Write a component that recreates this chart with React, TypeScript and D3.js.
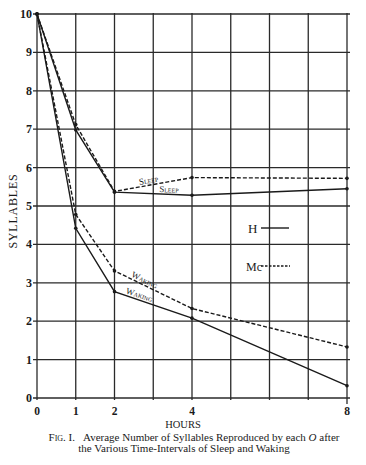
import * as React from "react";
import * as d3 from "d3";

// hours after learning
const hours = [0, 1, 2, 4, 8];
// syllables reproduced
const hSleep = [10, 6.98, 5.36, 5.28, 5.45];
const mcSleep = [10, 7.12, 5.38, 5.74, 5.72];
const hWaking = [10, 4.42, 2.77, 2.08, 0.32];
const mcWaking = [10, 4.78, 3.31, 2.33, 1.33];

const xTicks = [0, 1, 2, 4, 8];
const yTicks = [0, 1, 2, 3, 4, 5, 6, 7, 8, 9, 10];
const gridHours = [0, 1, 2, 3, 4, 5, 6, 7, 8];

const serif = "'Liberation Serif', 'DejaVu Serif', serif";
const ink = "#1a1a1a";

const App = () => {
  const x = d3.scaleLinear().domain([0, 8]).range([37, 347]);
  const y = d3.scaleLinear().domain([0, 10]).range([398, 14]);

  const line = d3
    .line<number>()
    .x((d, i) => x(hours[i]))
    .y((d) => y(d));

  const series = [
    { values: hSleep, dash: null },
    { values: mcSleep, dash: "4,2" },
    { values: hWaking, dash: null },
    { values: mcWaking, dash: "4,2" },
  ];

  // label placed along the segment between hours[i] and hours[i+1]
  const along = (vals: number[], i: number, t: number, off: number, text: string, key: string) => {
    const x0 = x(hours[i]), y0 = y(vals[i]);
    const x1 = x(hours[i + 1]), y1 = y(vals[i + 1]);
    const px = x0 + (x1 - x0) * t;
    const py = y0 + (y1 - y0) * t;
    const ang = (Math.atan2(y1 - y0, x1 - x0) * 180) / Math.PI;
    return (
      <text
        key={key}
        transform={`translate(${px},${py}) rotate(${ang}) translate(0,${off})`}
        textAnchor="middle"
        fontSize={9}
        fontFamily={serif}
        style={{ fontVariant: "small-caps" }}
        fill={ink}
      >
        {text}
      </text>
    );
  };

  return (
    <svg
      width={366}
      height={465}
      style={{ position: "absolute", left: 0, top: 0, background: "#fff" }}
    >
      {/* grid */}
      <g stroke="#2a2a2a" strokeWidth={1.3}>
        {gridHours.map((h) => (
          <line key={"v" + h} x1={x(h)} x2={x(h)} y1={y(10) - 1} y2={y(0) + (h === 8 ? 6 : 2)} />
        ))}
        {yTicks.map((v) => (
          <line key={"h" + v} x1={x(0) - 4} x2={x(8) + 3} y1={y(v)} y2={y(v)} />
        ))}
      </g>

      {/* y tick labels */}
      {yTicks.map((v) => (
        <text
          key={"yl" + v}
          x={x(0) - 5}
          y={y(v) + 4}
          textAnchor="end"
          fontSize={12}
          fontWeight="bold"
          fontFamily={serif}
          fill={ink}
        >
          {v}
        </text>
      ))}

      {/* x tick labels */}
      {xTicks.map((h) => (
        <text
          key={"xl" + h}
          x={x(h)}
          y={415}
          textAnchor="middle"
          fontSize={11.5}
          fontWeight="bold"
          fontFamily={serif}
          fill={ink}
        >
          {h}
        </text>
      ))}

      {/* data lines */}
      {series.map((s, i) => (
        <g key={"s" + i}>
          <path
            d={line(s.values) || ""}
            fill="none"
            stroke={ink}
            strokeWidth={1.4}
            strokeDasharray={s.dash || undefined}
          />
          {s.values.map((v, j) => (
            <circle key={j} cx={x(hours[j])} cy={y(v)} r={1.8} fill={ink} />
          ))}
        </g>
      ))}

      {/* curve labels */}
      {along(mcSleep, 2, 0.45, -2, "Sleep", "l1")}
      {along(hSleep, 2, 0.7, -2, "Sleep", "l2")}
      {along(mcWaking, 2, 0.36, -2, "Waking", "l3")}
      {along(hWaking, 2, 0.3, -2, "Waking", "l4")}

      {/* legend */}
      <text x={248} y={233} fontSize={13} fontFamily={serif} fill={ink}>H</text>
      <line x1={261} x2={289} y1={228} y2={228} stroke={ink} strokeWidth={1.4} />
      <text x={246} y={271} fontSize={12} fontFamily={serif} fill={ink}>Mc</text>
      <line x1={261} x2={290} y1={266} y2={266} stroke={ink} strokeWidth={1.3} strokeDasharray="2.5,1.5" />

      {/* axis titles */}
      <text
        transform={`translate(17,${(y(0) + y(10)) / 2 + 5}) rotate(-90)`}
        textAnchor="middle"
        fontSize={12}
        fontFamily={serif}
        letterSpacing={0.8}
        fill={ink}
      >
        SYLLABLES
      </text>
      <text x={183} y={428} textAnchor="middle" fontSize={10.5} fontFamily={serif} fill={ink}>
        HOURS
      </text>

      {/* caption */}
      <text x={194} y={441} textAnchor="middle" fontSize={11} fontFamily={serif} fill={ink}>
        <tspan style={{ fontVariant: "small-caps" }}>Fig. I.</tspan>
        <tspan dx={8}>Average Number of Syllables Reproduced by each </tspan>
        <tspan fontStyle="italic">O</tspan>
        <tspan> after</tspan>
      </text>
      <text x={184} y={452} textAnchor="middle" fontSize={11} fontFamily={serif} fill={ink}>
        the Various Time-Intervals of Sleep and Waking
      </text>
    </svg>
  );
};

export default App;
